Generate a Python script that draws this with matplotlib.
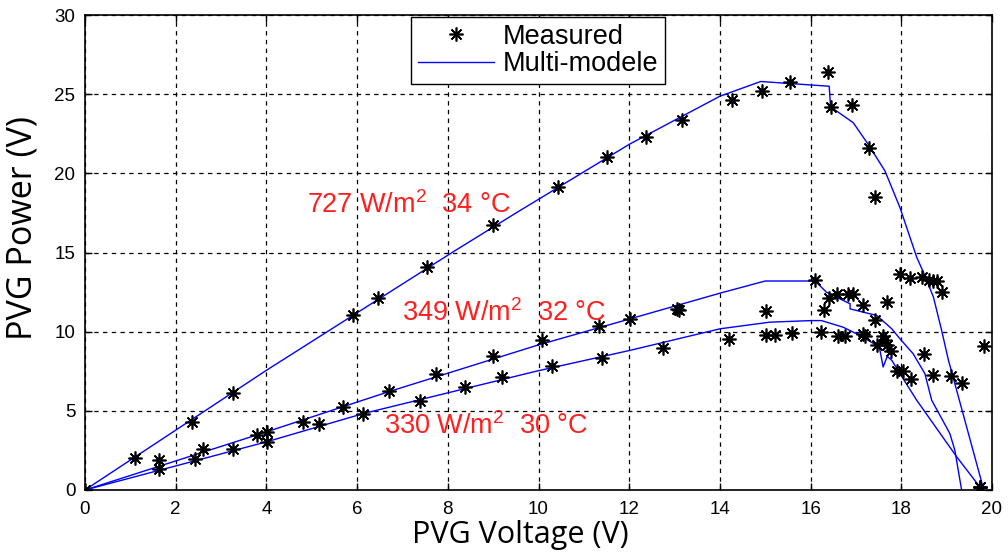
import matplotlib
matplotlib.use("Agg")
import matplotlib.pyplot as plt
from matplotlib.lines import Line2D

plt.rcParams['font.family'] = ['Liberation Sans', 'DejaVu Sans']
plt.rcParams['mathtext.default'] = 'regular'

# Model curves (Multi-modele)
m727_v = [0, 4.0, 8.15, 9.58, 12.0, 14.0, 14.9, 16.41, 16.44, 16.94, 17.27, 17.64, 17.97,
          18.34, 18.52, 18.71, 18.89, 19.04, 19.28, 19.81]
m727_p = [0, 7.56, 15.1, 17.63, 21.83, 24.87, 25.8, 25.5, 24.2, 23.2, 21.83, 20.15, 17.84,
          14.7, 13.54, 12.17, 10.07, 8.19, 5.67, 0.1]

m349_v = [0, 4.0, 6.72, 9.96, 12.02, 14.0, 15.0, 16.1, 16.35, 16.87, 16.87, 17.46, 17.79,
          17.97, 18.26, 18.52, 18.67, 19.07, 19.18, 19.33]
m349_p = [0, 3.67, 6.23, 9.13, 10.81, 12.43, 13.2, 13.2, 12.49, 11.76, 11.44, 11.02, 10.18,
          9.55, 8.61, 7.35, 5.67, 3.57, 2.52, 0.0]

m330_v = [0, 4.0, 6.14, 9.96, 12.02, 14.0, 15.1, 16.02, 16.24, 16.72, 17.09, 17.46, 17.53,
          17.6, 17.69, 17.79, 17.97, 18.34, 19.22, 19.73]
m330_p = [0, 3.04, 4.83, 7.51, 8.82, 10.18, 10.6, 10.7, 10.7, 10.28, 9.76, 9.13, 8.82,
          7.77, 8.44, 8.19, 7.35, 5.67, 2.1, 0.2]

# Measured points
s727_v = [0, 1.1, 2.35, 3.27, 5.9, 6.46, 7.54, 8.99, 10.43, 11.5, 12.36, 13.16, 14.26, 14.92,
          15.54, 16.39, 16.46, 16.92, 17.29, 17.42, 17.97, 18.19, 18.45, 18.6, 18.71, 18.78,
          18.9, 19.73]
s727_p = [0, 2.04, 4.3, 6.13, 11.06, 12.11, 14.1, 16.73, 19.14, 21.05, 22.3, 23.4, 24.62, 25.23,
          25.78, 26.4, 24.2, 24.29, 21.58, 18.53, 13.65, 13.39, 13.48, 13.27, 13.18, 13.18,
          12.49, 0.2]

s349_v = [1.64, 2.6, 3.79, 4.02, 4.8, 5.68, 6.71, 7.75, 9.0, 10.07, 11.34, 12.02, 13.05, 13.1,
          15.01, 16.1, 16.3, 16.41, 16.59, 16.83, 16.93, 17.15, 17.42, 17.69, 18.5, 18.71,
          19.1, 19.33, 19.83, 19.73]
s349_p = [1.89, 2.56, 3.46, 3.67, 4.3, 5.25, 6.23, 7.3, 8.44, 9.49, 10.33, 10.81, 11.44, 11.4,
          11.29, 13.27, 11.34, 12.11, 12.39, 12.39, 12.39, 11.71, 10.71, 11.86, 8.61, 7.28,
          7.2, 6.76, 9.07, 0.2]

s330_v = [1.64, 2.43, 3.26, 4.02, 5.17, 6.14, 7.39, 8.38, 9.19, 10.3, 11.39, 12.75, 14.19,
          15.01, 15.22, 15.6, 16.22, 16.61, 16.76, 17.15, 17.2, 17.46, 17.6, 17.64, 17.69,
          17.77, 17.9, 18.04, 18.21, 19.73]
s330_p = [1.3, 1.93, 2.56, 3.04, 4.16, 4.83, 5.6, 6.51, 7.14, 7.81, 8.36, 8.98, 9.51,
          9.8, 9.8, 9.9, 10.01, 9.7, 9.7, 9.87, 9.7, 9.13, 9.7, 9.45, 9.13,
          8.77, 7.51, 7.51, 7.03, 0.2]

x_ticks = [0, 2, 4, 6, 8, 10, 12, 14, 16, 18, 20]
y_ticks = [0, 5, 10, 15, 20, 25, 30]

labels = [r'727 W/m$^{2}$  34 °C', r'349 W/m$^{2}$  32 °C', r'330 W/m$^{2}$  30 °C']
label_pos = [(4.89, 17.49), (7.0, 10.66), (6.59, 3.53)]

fig = plt.figure(figsize=(10.08, 5.52), dpi=100)
ax = fig.add_axes([85/1008, 1 - 490/552, (992-85)/1008, (490-15)/552])

blue = '#0000ff'
for mv, mp in [(m727_v, m727_p), (m349_v, m349_p), (m330_v, m330_p)]:
    ax.plot(mv, mp, color=blue, lw=1.0, zorder=3)

star = dict(marker=(8, 2, 0), color='black', ms=10, mew=1.2, ls='none', zorder=4)
for sv, sp in [(s727_v, s727_p), (s349_v, s349_p), (s330_v, s330_p)]:
    ax.plot(sv, sp, **star)
    ax.plot(sv, sp, marker='o', color='black', ms=3.5, ls='none', zorder=5)

for txt, (tx, ty) in zip(labels, label_pos):
    ax.text(tx, ty, txt, color='#ff1f1f', fontsize=19.5, ha='left', va='baseline', zorder=6)

ax.set_xlim(0, 20)
ax.set_ylim(0, 30)
ax.set_xticks(x_ticks)
ax.set_yticks(y_ticks)
ax.grid(True, color='black', linestyle=(0, (3.5, 3.5)), lw=0.9)
ax.tick_params(direction='in', top=True, right=True, length=5, width=1,
               labelsize=13.5, colors='black')
ax.tick_params(axis='x', pad=8)
ax.tick_params(axis='y', pad=7)
for s in ax.spines.values():
    s.set_linewidth(1.2)

fig.text(520/1008, 1 - 535/552, 'PVG Voltage (V)', fontsize=22, family=['Open Sans', 'DejaVu Sans'],
         ha='center', va='center')
fig.text(23/1008, 1 - 228/552, 'PVG Power (V)', fontsize=24.5, family=['Open Sans', 'DejaVu Sans'],
         ha='center', va='center', rotation=90)

h1 = Line2D([], [], **star)
h2 = Line2D([], [], color=blue, lw=1.0)
leg = ax.legend([h1, h2], ['Measured', 'Multi-modele'], loc='upper left',
                bbox_to_anchor=(411/1008, 1 - 17/552), bbox_transform=fig.transFigure,
                fontsize=19.5, fancybox=False, framealpha=1, edgecolor='black',
                handlelength=2.8, handletextpad=0.35, borderpad=0.25, labelspacing=0.05,
                borderaxespad=0)
leg.get_frame().set_linewidth(1.0)

fig.savefig('out.png', dpi=100)
